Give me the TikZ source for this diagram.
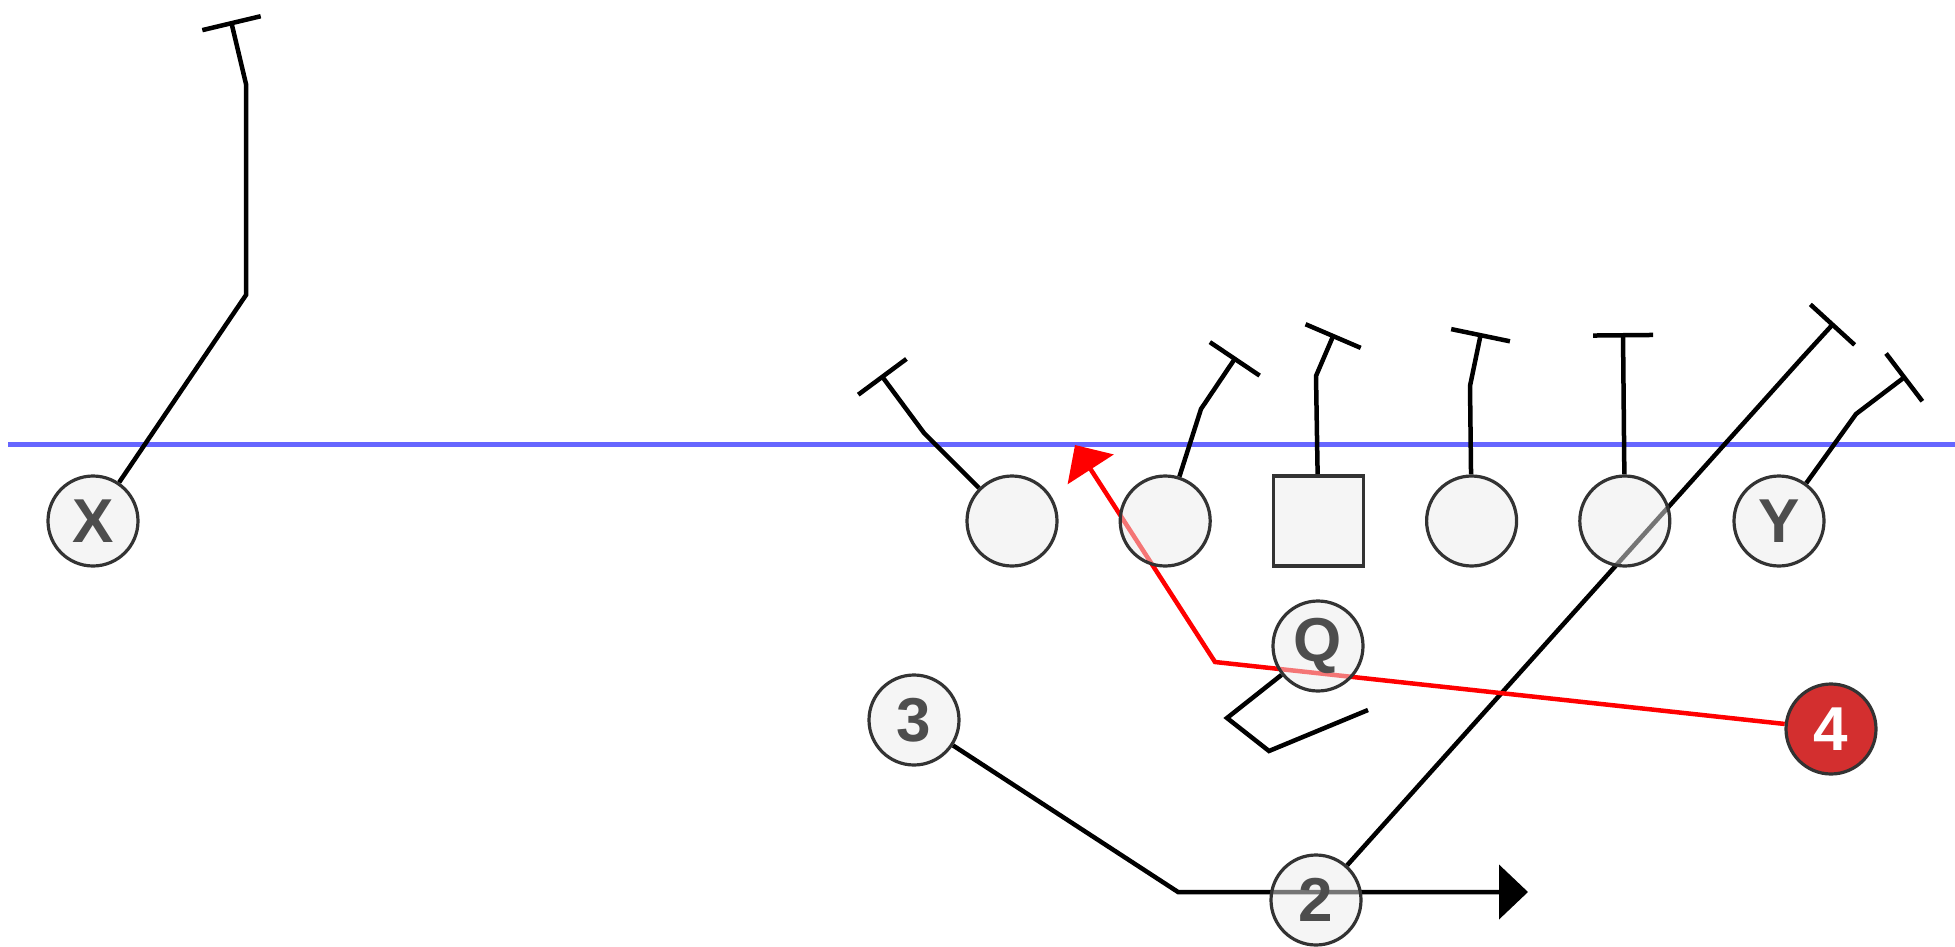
\documentclass[tikz,border=0pt]{standalone}
\usepackage{fontspec}
\setmainfont{Liberation Sans}
\usetikzlibrary{arrows.meta, backgrounds, positioning}
\definecolor{rimgray}{HTML}{333333}
\definecolor{labelgray}{HTML}{4D4D4D}
\definecolor{fillgray}{HTML}{EBEBEB}
\definecolor{losblue}{HTML}{6666FF}
\definecolor{rushred}{HTML}{D32F2F}

\begin{document}
\begin{tikzpicture}[x=1pt, y=-1pt,
        player/.style={circle, draw=rimgray, line width=3.2pt, fill=fillgray, fill opacity=0.5, text opacity=1,
            minimum size=90pt, inner sep=0pt, text=labelgray, font=\fontsize{62}{62}\selectfont\bfseries},
        snapper/.style={player, rectangle},
        rusher/.style={player, fill=rushred, fill opacity=1, text=white},
        route/.style={line width=4.5pt, -{Bar[width=60pt]}},
        runroute/.style={line width=4.5pt, -{Triangle[length=29pt, width=54pt]}},
        blitz/.style={line width=4.5pt, red, -{Triangle[length=29pt, width=54pt]}},
        losline/.style={line width=5pt, losblue}]
        \useasboundingbox (0,0) rectangle (1955,947);
        % offense
        \node[player] (pX) at (93,521) {X};
        \node[player] (pC1) at (1012,521) {};
        \node[player, right = 60pt of pC1] (pC2) {};
        \node[snapper, right = 60pt of pC2] (pC) {};
        \node[player, right = 60pt of pC] (pG) {};
        \node[player, right = 60pt of pG] (pT) {};
        \node[player] (pY) at (1779,521) {Y};
        \node[player] (pQ) at (1318,646) {Q};
        \node[player] (p3) at (914,720) {3};
        \node[player] (p2) at (1316,900) {2};
        \node[rusher] (p4) at (1831,729) {4};
        % route points
        \coordinate (losL) at (8,444);
        \coordinate (losR) at (1955,444);
        \coordinate (xA) at (246,295);
        \coordinate (xB) at (246,84);
        \coordinate (xEnd) at (231,21);
        \coordinate (cOneA) at (924,433);
        \coordinate (cOneEnd) at (881,375);
        \coordinate (cTwoA) at (1201,409);
        \coordinate (cTwoEnd) at (1236,357);
        \coordinate (cA) at (1316,376);
        \coordinate (cEnd) at (1334,334);
        \coordinate (gA) at (1470,386);
        \coordinate (gEnd) at (1481,333);
        \coordinate (tEnd) at (1623,333);
        \coordinate (yA) at (1856,414);
        \coordinate (yEnd) at (1906,376);
        \coordinate (twoA) at (1802,358);
        \coordinate (twoEnd) at (1834,323);
        \coordinate (threeA) at (1178,892);
        \coordinate (threeEnd) at (1528,892);
        \coordinate (qA) at (1227,718);
        \coordinate (qB) at (1269,751);
        \coordinate (qEnd) at (1368,710);
        \coordinate (fourA) at (1215,662);
        \coordinate (fourEnd) at (1075,445);
        \begin{scope}[on background layer]
            \draw[losline] (losL) -- (losR);
            \draw[route] (pX) -- (xA) -- (xB) -- (xEnd);
            \draw[route] (pC1) -- (cOneA) -- (cOneEnd);
            \draw[route] (pC2) -- (cTwoA) -- (cTwoEnd);
            \draw[route] (pC) -- (cA) -- (cEnd);
            \draw[route] (pG) -- (gA) -- (gEnd);
            \draw[route] (pT) -- (tEnd);
            \draw[route] (pY) -- (yA) -- (yEnd);
            \draw[route] (p2) -- (twoA) -- (twoEnd);
            \draw[runroute] (p3) -- (threeA) -- (threeEnd);
            \draw[line width=4.5pt] (pQ) -- (qA) -- (qB) -- (qEnd);
            \draw[blitz] (p4) -- (fourA) -- (fourEnd);
        \end{scope}
    \end{tikzpicture}
\end{document}
